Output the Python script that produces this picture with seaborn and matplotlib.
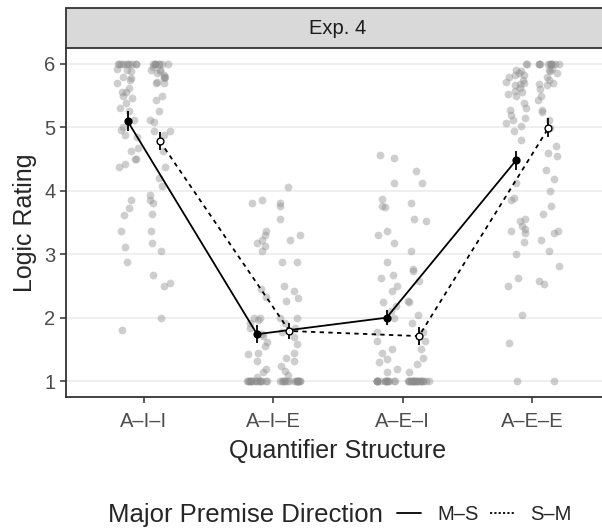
import numpy as np
import pandas as pd
import matplotlib
matplotlib.use("Agg")
import matplotlib.pyplot as plt
from matplotlib.lines import Line2D
from matplotlib.patches import Rectangle
import seaborn as sns

# quantifier structures and premise directions
structures = ["A–I–I", "A–I–E", "A–E–I", "A–E–E"]
directions = ["M–S", "S–M"]

# individual ratings (one list per structure x direction)
aii_ms = [6] * 10 + [5.92, 5.9, 5.88, 5.8, 5.78, 5.75, 5.7, 5.62, 5.55, 5.55, 5.5, 5.46,
                     5.38, 5.3, 5.25, 5.12, 5.0, 4.96, 4.88, 4.85, 4.67, 4.62, 4.5, 4.5,
                     4.42, 4.37, 3.86, 3.73, 3.62, 3.36, 3.12, 2.88, 1.81]
aii_sm = [6] * 8 + [5.95, 5.9, 5.9, 5.88, 5.85, 5.82, 5.8, 5.8, 5.78, 5.72, 5.7, 5.7,
                    5.49, 5.43, 5.25, 5.12, 5.08, 4.94, 4.94, 4.88, 4.62, 4.37, 4.2, 4.07,
                    3.94, 3.86, 3.81, 3.63, 3.36, 3.18, 3.05, 2.68, 2.55, 2.5, 2.0]
aie_ms = [3.86, 3.8, 3.36, 3.31, 3.23, 3.18, 3.13, 3.05, 2.45, 2.32, 2.0, 2.0, 1.97,
          1.92, 1.84, 1.75, 1.71, 1.61, 1.56, 1.45, 1.42, 1.32, 1.19, 1.14, 1.06] + [1] * 16
aie_sm = [4.06, 3.81, 3.76, 3.56, 3.31, 3.23, 2.88, 2.88, 2.5, 2.42, 2.31, 2.26, 2.0,
          2.0, 1.92, 1.84, 1.77, 1.69, 1.58, 1.45, 1.37, 1.32, 1.24, 1.16, 1.1] + [1] * 16
aei_ms = [4.57, 4.52, 4.12, 3.87, 3.76, 3.74, 3.36, 3.31, 3.18, 2.87, 2.68, 2.63, 2.5,
          2.42, 2.24, 2.18, 2.1, 2.0, 1.77, 1.63, 1.5, 1.45, 1.35, 1.3, 1.19, 1.14] + [1] * 15
aei_sm = [4.31, 4.12, 3.81, 3.55, 3.52, 3.05, 2.76, 2.73, 2.58, 2.26, 2.24, 2.05, 1.92,
          1.77, 1.63, 1.5, 1.37, 1.27, 1.14] + [1] * 21
aee_ms = [6, 6, 5.9, 5.88, 5.86, 5.83, 5.83, 5.8, 5.75, 5.72, 5.7, 5.68, 5.66, 5.62,
          5.58, 5.55, 5.52, 5.5, 5.38, 5.3, 5.28, 5.2, 5.15, 5.12, 5.07, 5.02, 4.94,
          4.8, 4.49, 4.12, 3.88, 3.86, 3.55, 3.52, 3.44, 3.4, 3.36, 3.33, 3.2, 3.0,
          2.63, 2.5, 2.05, 1.6, 1.0]
aee_sm = [6] * 10 + [5.92, 5.9, 5.88, 5.85, 5.8, 5.75, 5.7, 5.68, 5.66, 5.6, 5.5, 5.43,
                     5.28, 5.24, 5.12, 4.99, 4.7, 4.6, 4.55, 4.33, 4.18, 3.99, 3.76, 3.63,
                     3.36, 3.33, 3.23, 3.05, 2.81, 2.58, 2.53, 1.0]

# condition means and standard errors
means_ms = [5.10, 1.74, 2.00, 4.48]
means_sm = [4.78, 1.79, 1.71, 4.99]
se_ms = [0.155, 0.14, 0.12, 0.145]
se_sm = [0.145, 0.12, 0.145, 0.15]

raw = {("A–I–I", "M–S"): aii_ms, ("A–I–I", "S–M"): aii_sm,
       ("A–I–E", "M–S"): aie_ms, ("A–I–E", "S–M"): aie_sm,
       ("A–E–I", "M–S"): aei_ms, ("A–E–I", "S–M"): aei_sm,
       ("A–E–E", "M–S"): aee_ms, ("A–E–E", "S–M"): aee_sm}

dodge = {"M–S": -0.125, "S–M": 0.125}

rows = []
for (s, d), vals in raw.items():
    for v in vals:
        rows.append({"structure": s, "direction": d, "rating": v,
                     "xpos": structures.index(s) + dodge[d]})
df = pd.DataFrame(rows)

summ = pd.DataFrame({
    "structure": structures * 2,
    "direction": ["M–S"] * 4 + ["S–M"] * 4,
    "mean": means_ms + means_sm,
    "se": se_ms + se_sm,
})
summ["xpos"] = summ["structure"].map(structures.index) + summ["direction"].map(dodge)

sns.set_style("white")
plt.rcParams["font.family"] = ["Liberation Sans", "DejaVu Sans"]

fig = plt.figure(figsize=(6.02, 5.31), dpi=100)
ax = fig.add_axes([66 / 602, 1 - 397 / 531, 544 / 602, 349 / 531])

np.random.seed(3)
sns.stripplot(data=df, x="xpos", y="rating", native_scale=True, jitter=0.34,
              color="#8c8c8c", alpha=0.42, size=5.6, linewidth=0, ax=ax, zorder=2)

sns.lineplot(data=summ, x="xpos", y="mean", style="direction",
             dashes={"M–S": "", "S–M": (2.4, 2.4)}, color="black", lw=1.3,
             legend=False, ax=ax, zorder=3)

for d, face in [("M–S", "black"), ("S–M", "white")]:
    sub = summ[summ["direction"] == d]
    ax.errorbar(sub["xpos"], sub["mean"], yerr=sub["se"], fmt="none",
                ecolor="black", elinewidth=1.3, capsize=0, zorder=4)
    ax.scatter(sub["xpos"], sub["mean"], s=24, facecolor=face,
               edgecolor="black", linewidth=1.0, zorder=5)

ax.set_xlim(-0.6, 3.6)
ax.set_ylim(0.75, 6.25)
ax.set_xticks(range(4))
ax.set_xticklabels(structures)
ax.set_yticks(range(1, 7))
ax.yaxis.grid(True, color="#EBEBEB", lw=1.1, zorder=0)
ax.xaxis.grid(False)
ax.set_axisbelow(True)
for side in ["top", "right"]:
    ax.spines[side].set_visible(False)
for side in ["left", "bottom"]:
    ax.spines[side].set_color("#333333")
    ax.spines[side].set_linewidth(1.3)
ax.tick_params(axis="both", length=4.5, width=1.1, color="#333333",
               labelcolor="#4D4D4D", labelsize=14.5, pad=3, bottom=True, left=True)
ax.tick_params(axis="x", pad=6)
ax.set_xlabel("Quantifier Structure", fontsize=18, labelpad=6)
ax.set_ylabel("Logic Rating", fontsize=18, labelpad=5)

# facet strip
strip = Rectangle((66 / 602, 1 - 48 / 531), 544 / 602, 40 / 531, transform=fig.transFigure,
                  facecolor="#D9D9D9", edgecolor="#333333", lw=1.3, clip_on=False)
fig.patches.append(strip)
fig.text(338 / 602, 1 - 28 / 531, "Exp. 4", ha="center", va="center",
         fontsize=14.5, color="#1A1A1A")

# legend
fig.text(108 / 602, 1 - 515 / 531, "Major Premise Direction", ha="left", va="center",
         fontsize=18.5)
handles = [Line2D([], [], color="black", lw=1.3),
           Line2D([], [], color="black", lw=1.3, dashes=(1.2, 1.2))]
fig.legend(handles, directions, loc="center left", bbox_to_anchor=(397 / 602, 1 - 515 / 531),
           ncol=2, frameon=False, fontsize=14.5, handlelength=1.2, handletextpad=0.8,
           columnspacing=0.55, borderaxespad=0, borderpad=0)

fig.savefig("out.png", dpi=100)
